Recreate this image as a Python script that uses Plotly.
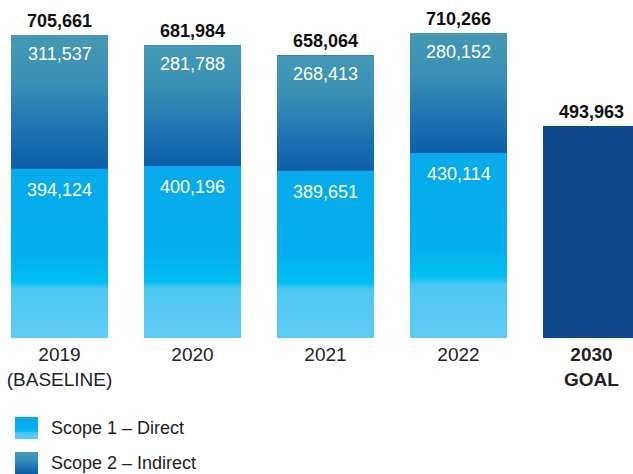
import base64
import plotly.graph_objects as go

# ---- data ----
categories = ["2019<br>(BASELINE)", "2020", "2021", "2022", "<b>2030<br>GOAL</b>"]
scope1 = [394124, 400196, 389651, 430114, None]
scope2 = [311537, 281788, 268413, 280152, None]
goal = [None, None, None, None, 493963]
totals = [705661, 681984, 658064, 710266, 493963]
series_names = ["Scope 1 – Direct", "Scope 2 – Indirect"]

# ---- style ----
C1 = "#04acec"
C2 = "#2a7db4"
CG = "#104a8c"
BAR_W = 0.73
FONT = "Liberation Sans, Arial, Helvetica, sans-serif"

grad1 = [(0, "#08aaeb"), (0.5, "#04aeee"), (0.67, "#00bff1"), (0.71, "#4ec7f3"), (1, "#5ecbf5")]
grad2 = [(0, "#4599b5"), (0.35, "#3a8fb6"), (0.7, "#1f73b2"), (1, "#0a5fa8")]


def grad_uri(stops):
    st = "".join(f"<stop offset='{o}' stop-color='{c}'/>" for o, c in stops)
    svg = ("<svg xmlns='http://www.w3.org/2000/svg' width='10' height='100' viewBox='0 0 10 100' "
           "preserveAspectRatio='none'><defs><linearGradient id='g' x1='0' y1='0' x2='0' y2='1'>"
           f"{st}</linearGradient></defs><rect width='10' height='100' fill='url(#g)'/></svg>")
    return "data:image/svg+xml;base64," + base64.b64encode(svg.encode()).decode()


xs = list(range(len(categories)))

fig = go.Figure()
fig.add_trace(go.Bar(x=xs, y=scope1, name=series_names[0], marker_color=C1, width=BAR_W,
                     marker_line_width=0, showlegend=False))
fig.add_trace(go.Bar(x=xs, y=scope2, name=series_names[1], marker_color=C2, width=BAR_W,
                     marker_line_width=0, showlegend=False))
fig.add_trace(go.Bar(x=xs, y=goal, name="2030 Goal", marker_color=CG, width=BAR_W,
                     marker_line_width=0, showlegend=False))

images = []
annotations = []
u1, u2 = grad_uri(grad1), grad_uri(grad2)
for i in xs:
    if scope1[i] is not None:
        top1 = scope1[i]
        top2 = scope1[i] + scope2[i]
        images.append(dict(source=u1, xref="x", yref="y", x=i - BAR_W / 2, y=top1,
                           sizex=BAR_W, sizey=scope1[i], sizing="stretch", layer="above",
                           xanchor="left", yanchor="top"))
        images.append(dict(source=u2, xref="x", yref="y", x=i - BAR_W / 2, y=top2,
                           sizex=BAR_W, sizey=scope2[i], sizing="stretch", layer="above",
                           xanchor="left", yanchor="top"))
        annotations.append(dict(x=i, y=top1, text=f"{scope1[i]:,}", showarrow=False,
                                yshift=-21, font=dict(color="white", size=18, family=FONT)))
        annotations.append(dict(x=i, y=top2, text=f"{scope2[i]:,}", showarrow=False,
                                yshift=-19, font=dict(color="white", size=18, family=FONT)))
    annotations.append(dict(x=i, y=totals[i], text=f"<b>{totals[i]:,}</b>", showarrow=False,
                            yshift=14, font=dict(color="#111", size=18, family=FONT)))

# legend (manual)
leg = [(grad1, series_names[0], 428), (grad2, series_names[1], 463)]
for stops, name, yc in leg:
    images.append(dict(source=grad_uri(stops), xref="paper", yref="paper",
                       x=15 / 633, y=1 - (yc - 11) / 338, sizex=23 / 633, sizey=22 / 338,
                       sizing="stretch", layer="above", xanchor="left", yanchor="top"))
    annotations.append(dict(xref="paper", yref="paper", x=49 / 633, y=1 - yc / 338,
                            text=name, showarrow=False, xanchor="left", yanchor="middle",
                            font=dict(color="#222", size=18, family=FONT)))

fig.update_layout(
    barmode="stack",
    width=633, height=474,
    margin=dict(l=0, r=0, t=0, b=136, pad=0, autoexpand=False),
    paper_bgcolor="white", plot_bgcolor="white",
    images=images,
    annotations=annotations,
    xaxis=dict(range=[-59.5 / 133, (633 - 59.5) / 133], tickmode="array", tickvals=xs,
               ticktext=categories, showgrid=False, zeroline=False, showline=False,
               ticks="", ticklabelstandoff=3,
               tickfont=dict(size=19, color="#222", family=FONT)),
    yaxis=dict(range=[0, 338 / 4.294e-4], visible=False, showgrid=False, zeroline=False),
)

fig.write_html("out.html", config={"displayModeBar": False},
               post_script="document.body.style.margin='0';document.body.style.overflow='hidden';")
